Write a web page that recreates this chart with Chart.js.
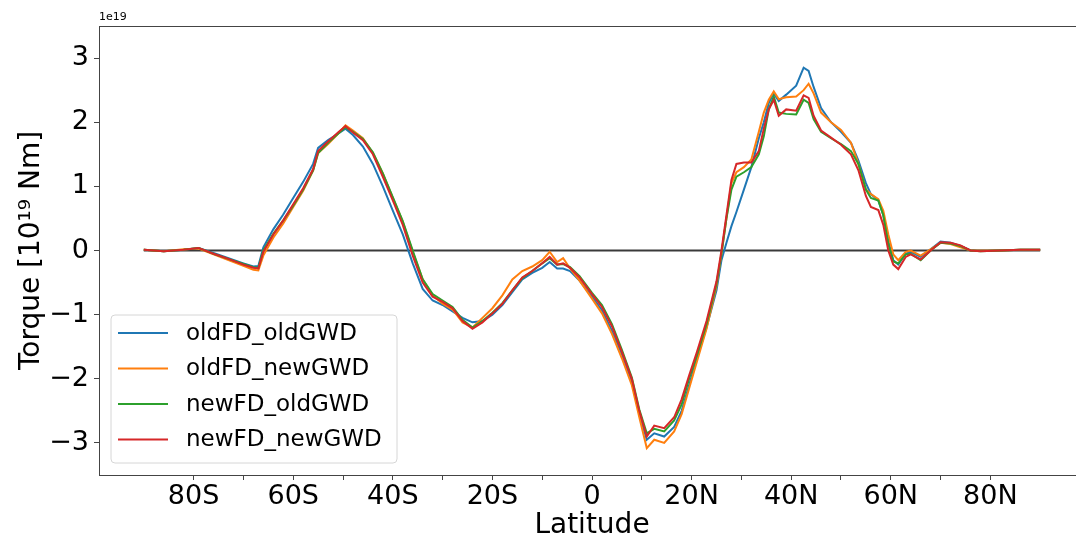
<!DOCTYPE html>
<html>
<head>
<meta charset="utf-8">
<script src="https://cdn.jsdelivr.net/npm/chart.js@4.4.1/dist/chart.umd.min.js"></script>
<style>
  html, body { margin: 0; padding: 0; background: #fff; overflow: hidden; }
  #wrap { width: 1076px; height: 545px; overflow: hidden; }
</style>
</head>
<body>
<div id="wrap"><canvas id="c" width="1088" height="545"></canvas></div>
<script>
// latitude grid (deg, negative = south)
const lat = [-90, -86, -82, -79, -76, -73, -70, -68, -67, -66,
  -64, -62, -60, -58, -56, -55, -53, -51, -49.5, -48,
  -46, -44, -42, -40, -38, -36, -34, -32, -30, -28,
  -26, -24, -22, -20, -18, -16, -14, -12, -10, -8.5,
  -7, -5.8, -4.4, -2.5, 0, 2, 4, 6, 8, 9.5,
  11, 12.5, 14.5, 16.5, 18, 19.5, 21, 23, 25, 26,
  27, 28, 29, 30.5, 32, 33.5, 34.5, 35.5, 36.5, 37.5,
  39, 41, 42.5, 43.5, 44.5, 46, 48, 50, 52, 53.5,
  55, 56, 57.5, 58.5, 59.5, 60.5, 61.5, 63, 64, 66,
  68, 70, 72, 74, 76, 78, 82, 86, 90];

// torque in 1e19 Nm
const oldFD_oldGWD = [0.01, -0.01, 0.01, 0.04, -0.04, -0.12, -0.2, -0.25, -0.24, 0.05,
  0.33, 0.56, 0.82, 1.07, 1.35, 1.60, 1.72, 1.82, 1.90, 1.80,
  1.62, 1.35, 1.00, 0.62, 0.25, -0.20, -0.60, -0.78, -0.85, -0.95,
  -1.05, -1.12, -1.10, -1.00, -0.85, -0.65, -0.45, -0.35, -0.27, -0.18,
  -0.28, -0.28, -0.32, -0.47, -0.72, -0.93, -1.25, -1.62, -2.05, -2.55,
  -2.95, -2.85, -2.90, -2.75, -2.50, -2.10, -1.70, -1.20, -0.62, -0.15,
  0.12, 0.38, 0.60, 0.95, 1.30, 1.75, 2.00, 2.30, 2.45, 2.33,
  2.43, 2.57, 2.85, 2.80, 2.55, 2.22, 2.00, 1.85, 1.68, 1.40,
  1.05, 0.88, 0.78, 0.55, 0.15, -0.15, -0.22, -0.05, -0.02, -0.10,
  0.02, 0.14, 0.12, 0.07, 0.00, 0.00, 0.00, 0.01, 0.01];

const oldFD_newGWD = [0.01, -0.01, 0.02, 0.03, -0.06, -0.15, -0.24, -0.30, -0.31, -0.08,
  0.20, 0.42, 0.68, 0.93, 1.25, 1.52, 1.66, 1.82, 1.95, 1.87,
  1.75, 1.52, 1.20, 0.82, 0.45, -0.02, -0.45, -0.70, -0.83, -0.92,
  -1.12, -1.20, -1.05, -0.90, -0.70, -0.45, -0.32, -0.25, -0.15, -0.02,
  -0.18, -0.12, -0.28, -0.47, -0.75, -0.98, -1.30, -1.68, -2.10, -2.60,
  -3.08, -2.95, -3.00, -2.82, -2.55, -2.15, -1.75, -1.22, -0.55, -0.05,
  0.50, 1.05, 1.22, 1.30, 1.42, 1.85, 2.15, 2.35, 2.48, 2.36,
  2.39, 2.40, 2.50, 2.60, 2.45, 2.15, 2.00, 1.88, 1.68, 1.35,
  0.95, 0.88, 0.80, 0.62, 0.25, -0.06, -0.15, -0.02, 0.00, -0.08,
  0.02, 0.12, 0.10, 0.05, 0.00, 0.00, 0.00, 0.01, 0.01];

const newFD_oldGWD = [0.01, -0.01, 0.01, 0.04, -0.05, -0.13, -0.21, -0.26, -0.27, 0.00,
  0.26, 0.47, 0.70, 0.95, 1.25, 1.52, 1.68, 1.82, 1.92, 1.85,
  1.74, 1.53, 1.20, 0.83, 0.46, 0.00, -0.45, -0.68, -0.78, -0.88,
  -1.08, -1.20, -1.10, -0.97, -0.82, -0.62, -0.43, -0.32, -0.20, -0.12,
  -0.22, -0.21, -0.26, -0.40, -0.66, -0.85, -1.15, -1.55, -1.98, -2.48,
  -2.85, -2.78, -2.82, -2.65, -2.40, -2.00, -1.65, -1.15, -0.52, -0.05,
  0.50, 0.95, 1.15, 1.22, 1.30, 1.50, 1.78, 2.20, 2.40, 2.15,
  2.13, 2.12, 2.35, 2.30, 2.05, 1.85, 1.75, 1.66, 1.55, 1.35,
  0.95, 0.82, 0.78, 0.55, 0.10, -0.17, -0.20, -0.06, -0.05, -0.15,
  0.00, 0.12, 0.11, 0.07, 0.00, -0.01, 0.00, 0.01, 0.01];

const newFD_newGWD = [0.01, -0.01, 0.01, 0.04, -0.05, -0.13, -0.22, -0.27, -0.28, -0.02,
  0.25, 0.47, 0.72, 0.97, 1.27, 1.55, 1.70, 1.84, 1.94, 1.84,
  1.72, 1.50, 1.15, 0.78, 0.40, -0.08, -0.50, -0.72, -0.80, -0.90,
  -1.10, -1.22, -1.12, -0.98, -0.83, -0.62, -0.42, -0.32, -0.20, -0.10,
  -0.22, -0.20, -0.27, -0.42, -0.68, -0.88, -1.18, -1.58, -2.00, -2.50,
  -2.90, -2.73, -2.77, -2.60, -2.32, -1.95, -1.60, -1.10, -0.48, 0.00,
  0.55, 1.10, 1.35, 1.37, 1.37, 1.55, 1.90, 2.20, 2.35, 2.10,
  2.20, 2.18, 2.42, 2.38, 2.10, 1.87, 1.76, 1.65, 1.50, 1.25,
  0.85, 0.68, 0.63, 0.40, 0.00, -0.22, -0.29, -0.10, -0.06, -0.14,
  0.00, 0.13, 0.12, 0.08, 0.00, -0.01, 0.00, 0.01, 0.01];

const seriesNames = ['oldFD_oldGWD', 'oldFD_newGWD', 'newFD_oldGWD', 'newFD_newGWD'];
const seriesValues = [oldFD_oldGWD, oldFD_newGWD, newFD_oldGWD, newFD_newGWD];
const seriesColors = ['#1f77b4', '#ff7f0e', '#2ca02c', '#d62728'];

const xTicks = [-80, -70, -60, -50, -40, -30, -20, -10, 0, 10, 20, 30, 40, 50, 60, 70, 80];
const yTicks = [-3, -2, -1, 0, 1, 2, 3];

const FONT = 'DejaVu Sans';
const SPINE = '#444';

function latLabel(v) {
  if (v % 20 !== 0) return '';
  if (v === 0) return '0';
  return Math.abs(v) + (v < 0 ? 'S' : 'N');
}

const datasets = seriesNames.map((name, i) => ({
  label: name,
  data: lat.map((x, j) => ({ x: x, y: seriesValues[i][j] })),
  borderColor: seriesColors[i],
  borderWidth: 2,
  pointRadius: 0,
  fill: false,
  tension: 0,
  order: seriesNames.length - i  // last series on top, like matplotlib
}));
// zero reference line
datasets.push({
  label: 'zero',
  data: [{ x: lat[0], y: 0 }, { x: lat[lat.length - 1], y: 0 }],
  borderColor: '#3a3a3a',
  borderWidth: 2,
  pointRadius: 0,
  order: 10
});

// top spine, offset text and legend box inside the axes
const extras = {
  id: 'extras',
  afterDraw(chart) {
    const { ctx, chartArea } = chart;
    ctx.save();
    ctx.strokeStyle = SPINE;
    ctx.lineWidth = 1;
    ctx.beginPath();
    ctx.moveTo(chartArea.left, chartArea.top + 0.5);
    ctx.lineTo(chartArea.right, chartArea.top + 0.5);
    ctx.stroke();

    ctx.fillStyle = '#000';
    ctx.font = '11px "' + FONT + '"';
    ctx.textBaseline = 'bottom';
    ctx.textAlign = 'left';
    ctx.fillText('1e19', chartArea.left, chartArea.top - 3);

    // legend
    const bx = 111, by = 315, bw = 286, bh = 148, r = 4;
    ctx.beginPath();
    ctx.moveTo(bx + r, by);
    ctx.arcTo(bx + bw, by, bx + bw, by + bh, r);
    ctx.arcTo(bx + bw, by + bh, bx, by + bh, r);
    ctx.arcTo(bx, by + bh, bx, by, r);
    ctx.arcTo(bx, by, bx + bw, by, r);
    ctx.closePath();
    ctx.fillStyle = 'rgba(255,255,255,0.8)';
    ctx.fill();
    ctx.strokeStyle = '#d6d6d6';
    ctx.stroke();

    ctx.font = '23px "' + FONT + '"';
    ctx.textBaseline = 'middle';
    seriesNames.forEach((name, i) => {
      const y = 333 + i * 35.5;
      ctx.strokeStyle = seriesColors[i];
      ctx.lineWidth = 2;
      ctx.beginPath();
      ctx.moveTo(118, y);
      ctx.lineTo(168, y);
      ctx.stroke();
      ctx.fillStyle = '#000';
      ctx.fillText(name, 186, y + 1);
    });
    ctx.restore();
  }
};

new Chart(document.getElementById('c'), {
  type: 'line',
  data: { datasets: datasets },
  options: {
    responsive: false,
    animation: false,
    layout: { padding: { left: 0, right: 3, top: 26, bottom: 0 } },
    plugins: { legend: { display: false }, tooltip: { enabled: false } },
    scales: {
      x: {
        type: 'linear',
        min: -99,
        max: 99,
        afterBuildTicks(scale) { scale.ticks = xTicks.map(v => ({ value: v })); },
        afterFit(scale) { scale.height = 70; },
        grid: { drawOnChartArea: false, drawTicks: true, tickLength: 5, color: SPINE },
        border: { color: SPINE, width: 1 },
        ticks: {
          autoSkip: false,
          maxRotation: 0,
          padding: 1,
          color: '#000',
          font: { family: FONT, size: 27 },
          callback: v => latLabel(v)
        },
        title: {
          display: true,
          text: 'Latitude',
          color: '#000',
          font: { family: FONT, size: 28 },
          padding: { top: 0, bottom: 2 }
        }
      },
      y: {
        type: 'linear',
        min: -3.5,
        max: 3.5,
        afterBuildTicks(scale) { scale.ticks = yTicks.map(v => ({ value: v })); },
        afterFit(scale) { scale.width = 99; },
        grid: { drawOnChartArea: false, drawTicks: true, tickLength: 5, color: SPINE },
        border: { color: SPINE, width: 1 },
        ticks: {
          padding: 5,
          color: '#000',
          font: { family: FONT, size: 27 },
          callback: v => (v < 0 ? '\u2212' + Math.abs(v) : String(v))
        },
        title: {
          display: true,
          text: 'Torque [10\u00b9\u2079 Nm]',
          color: '#000',
          font: { family: FONT, size: 28 },
          padding: { top: 15, bottom: 0 }
        }
      }
    }
  },
  plugins: [extras]
});
</script>
</body>
</html>
